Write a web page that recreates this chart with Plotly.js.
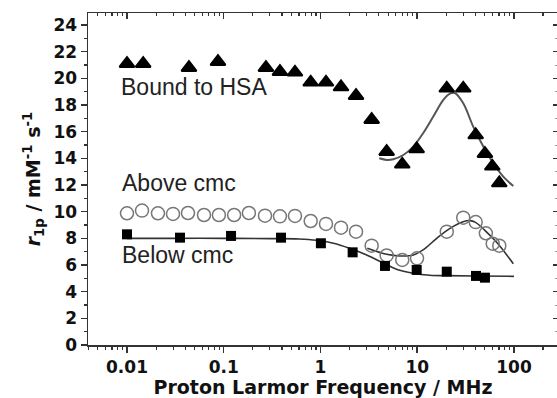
<!DOCTYPE html>
<html>
<head>
<meta charset="utf-8">
<script src="https://cdn.plot.ly/plotly-3.0.1.min.js"></script>
<style>
html, body { margin: 0; padding: 0; overflow: hidden; background: #fff; }
#chart { width: 559px; height: 398px; }
</style>
</head>
<body>
<div id="chart"></div>
<script>
// ---- Data ----
// Bound to HSA (filled triangles)
const hsaFreq = [0.01, 0.0147, 0.0437, 0.0872, 0.273, 0.381, 0.545, 0.792, 1.14, 1.63, 2.33, 3.38, 4.83, 7.0, 9.87, 20.2, 29.9, 40.2, 50.1, 59.7, 70.5];
const hsaR1 = [21.1, 21.1, 20.8, 21.25, 20.8, 20.5, 20.45, 19.7, 19.7, 19.35, 18.7, 16.9, 14.5, 13.55, 14.7, 19.25, 19.25, 15.75, 14.35, 13.4, 12.15];
// Above cmc (open circles)
const aboveFreq = [0.01, 0.0143, 0.0209, 0.0299, 0.0427, 0.0625, 0.0891, 0.128, 0.182, 0.267, 0.381, 0.545, 0.792, 1.14, 1.63, 2.33, 3.38, 4.83, 7.0, 9.95, 20.2, 29.9, 40.2, 51.2, 60.3, 70.5];
const aboveR1 = [9.88, 10.08, 9.88, 9.83, 9.9, 9.75, 9.75, 9.75, 9.9, 9.7, 9.65, 9.68, 9.3, 9.08, 8.8, 8.5, 7.45, 6.72, 6.38, 6.5, 8.5, 9.55, 9.22, 8.38, 7.6, 7.45];
// Below cmc (filled squares)
const belowFreq = [0.01, 0.0353, 0.119, 0.391, 1.01, 2.15, 4.64, 9.87, 20.2, 40.5, 50.1];
const belowR1 = [8.3, 8.05, 8.18, 8.05, 7.63, 6.95, 5.93, 5.63, 5.5, 5.18, 5.05];

// Fitted curves
const hsaFitFreq = [4.05, 4.83, 5.65, 7.18, 9.1, 11.5, 14.65, 18.6, 21.8, 24.5, 29.9, 37.9, 48.2, 61.1, 77.5, 98.4];
const hsaFitR1 = [14.0, 13.88, 13.93, 14.25, 14.88, 15.88, 17.13, 18.38, 18.85, 18.9, 18.13, 16.38, 14.88, 13.63, 12.63, 11.93];
const aboveFitFreq = [3.05, 4.83, 6.63, 9.1, 11.5, 15.9, 21.8, 29.9, 35.0, 40.0, 50.0, 66.2, 98.4];
const aboveFitR1 = [7.25, 6.8, 6.68, 6.75, 7.13, 8.0, 8.75, 9.25, 9.33, 9.2, 8.6, 7.7, 6.1];
const belowFitFreq = [0.01, 0.03, 0.1, 0.3, 0.6, 0.91, 1.36, 2.0, 3.0, 4.5, 6.1, 9.1, 13.5, 20, 40, 100];
const belowFitR1 = [8.0, 8.0, 8.0, 7.98, 7.95, 7.85, 7.63, 7.25, 6.75, 6.13, 5.68, 5.38, 5.23, 5.2, 5.18, 5.15];

// Tick labels
const xTickVals = [0.01, 0.1, 1, 10, 100];
const xTickText = ['0.01', '0.1', '1', '10', '100'];
const yTickVals = [0, 2, 4, 6, 8, 10, 12, 14, 16, 18, 20, 22, 24];
const yTickText = ['0', '2', '4', '6', '8', '10', '12', '14', '16', '18', '20', '22', '24'];
const seriesLabels = ['Bound to HSA', 'Above cmc', 'Below cmc'];

// minor tick positions
const xMinor = [];
[0.001, 0.01, 0.1, 1, 10, 100].forEach(d => { for (let k = 2; k <= 9; k++) xMinor.push(+(d * k).toPrecision(3)); });
const yMinor = [1, 3, 5, 7, 9, 11, 13, 15, 17, 19, 21, 23];

const axisColor = '#333';
const tickFont = {family: 'DejaVu Sans', size: 17, color: '#111', weight: 'bold'};
const titleFont = {family: 'DejaVu Sans', size: 19, color: '#111', weight: 'bold'};
const labelFont = {family: 'Liberation Sans, Arial, sans-serif', size: 23, color: '#222'};

const xRange = [-2.403, 2.455];
const yRange = [0, 24.9];

const traces = [
  {x: hsaFitFreq, y: hsaFitR1, mode: 'lines', line: {color: '#555', width: 2, shape: 'spline', smoothing: 1}, hoverinfo: 'skip'},
  {x: aboveFitFreq, y: aboveFitR1, mode: 'lines', line: {color: '#333', width: 1.6, shape: 'spline', smoothing: 1}, hoverinfo: 'skip'},
  {x: belowFitFreq, y: belowFitR1, mode: 'lines', line: {color: '#333', width: 1.6, shape: 'spline', smoothing: 1}, hoverinfo: 'skip'},
  {x: hsaFreq, y: hsaR1, mode: 'markers', name: seriesLabels[0],
   marker: {symbol: 'triangle-up', size: 13, color: '#000', line: {color: '#000', width: 2}}},
  {x: aboveFreq, y: aboveR1, mode: 'markers', name: seriesLabels[1],
   marker: {symbol: 'circle-open', size: 13, color: '#777', line: {color: '#777', width: 1.5}}},
  {x: belowFreq, y: belowR1, mode: 'markers', name: seriesLabels[2],
   marker: {symbol: 'square', size: 10, color: '#000'}},
  // invisible helper so the mirrored (top/right) axes are drawn
  {x: belowFreq, y: belowR1, xaxis: 'x2', yaxis: 'y2', mode: 'markers', marker: {opacity: 0}, hoverinfo: 'skip'}
];

const layout = {
  width: 559, height: 398,
  margin: {l: 88, r: 1, t: 13, b: 53},
  paper_bgcolor: '#fff', plot_bgcolor: '#fff',
  showlegend: false,
  xaxis: {
    type: 'log', range: xRange, tickmode: 'array', tickvals: xTickVals, ticktext: xTickText,
    ticks: 'outside', ticklen: 6, tickwidth: 1.5, tickcolor: axisColor,
    showline: true, linecolor: axisColor, linewidth: 1.5, showgrid: false, zeroline: false,
    minor: {tickmode: 'array', tickvals: xMinor, ticks: 'outside', ticklen: 3, tickwidth: 1.2, tickcolor: axisColor, showgrid: false},
    tickfont: tickFont,
    title: {text: 'Proton Larmor Frequency / MHz', font: titleFont, standoff: 2}
  },
  yaxis: {
    range: yRange, tickmode: 'array', tickvals: yTickVals, ticktext: yTickText,
    ticks: 'outside', ticklen: 6, tickwidth: 1.5, tickcolor: axisColor,
    showline: true, linecolor: axisColor, linewidth: 1.5, showgrid: false, zeroline: false,
    minor: {tickmode: 'array', tickvals: yMinor, ticks: 'outside', ticklen: 3, tickwidth: 1.2, tickcolor: axisColor, showgrid: false},
    tickfont: tickFont,
    title: {text: '<i>r</i><sub>1p</sub> / mM<sup>-1</sup> s<sup>-1</sup>', font: titleFont, standoff: 8}
  },
  xaxis2: {
    type: 'log', range: xRange, overlaying: 'x', side: 'top', anchor: 'y2',
    tickmode: 'array', tickvals: xTickVals, showticklabels: false,
    ticks: 'inside', ticklen: 6, tickwidth: 1.5, tickcolor: axisColor,
    showline: true, linecolor: axisColor, linewidth: 1.5, showgrid: false, zeroline: false,
    minor: {tickmode: 'array', tickvals: xMinor, ticks: 'inside', ticklen: 3, tickwidth: 1.2, tickcolor: axisColor, showgrid: false}
  },
  yaxis2: {
    range: yRange, overlaying: 'y', side: 'right', anchor: 'x2',
    tickmode: 'array', tickvals: yTickVals, showticklabels: false,
    ticks: 'inside', ticklen: 5, tickwidth: 1.5, tickcolor: axisColor,
    showline: true, linecolor: axisColor, linewidth: 1.5, showgrid: false, zeroline: false,
    minor: {tickmode: 'array', tickvals: yMinor, ticks: 'inside', ticklen: 3, tickwidth: 1, tickcolor: '#999', showgrid: false}
  },
  annotations: [
    {text: seriesLabels[0], xref: 'paper', yref: 'y', x: 0.066, y: 19.35, xanchor: 'left', yanchor: 'middle', showarrow: false, font: labelFont},
    {text: seriesLabels[1], xref: 'paper', yref: 'y', x: 0.068, y: 12.15, xanchor: 'left', yanchor: 'middle', showarrow: false, font: labelFont},
    {text: seriesLabels[2], xref: 'paper', yref: 'y', x: 0.068, y: 6.73, xanchor: 'left', yanchor: 'middle', showarrow: false, font: labelFont}
  ]
};

Plotly.newPlot('chart', traces, layout, {displayModeBar: false, staticPlot: true});
</script>
</body>
</html>
